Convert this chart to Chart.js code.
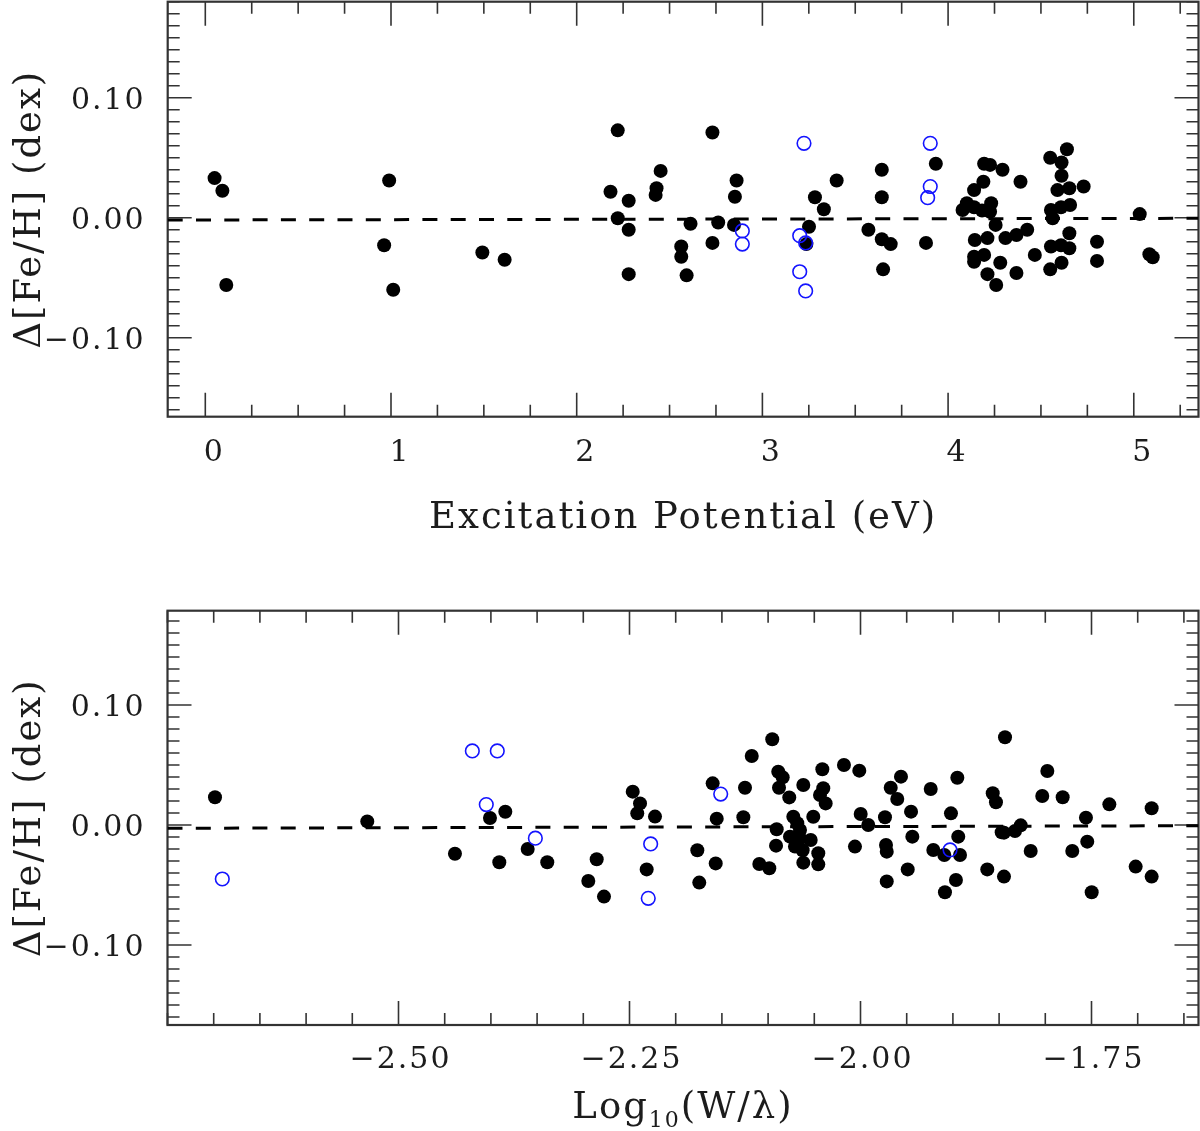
<!DOCTYPE html>
<html>
<head>
<meta charset="utf-8">
<script src="https://cdn.jsdelivr.net/npm/chart.js@4.4.1/dist/chart.umd.min.js"></script>
<style>
    html, body { margin: 0; padding: 0; background: #fff; }
    #wrap { position: relative; width: 1200px; height: 1131px; }
    canvas { position: absolute; left: 0; }
</style>
</head>
<body>
<div id="wrap">
    <canvas id="chart_top" width="1200" height="560" style="top:0px"></canvas>
    <canvas id="chart_bottom" width="1200" height="571" style="top:560px"></canvas>
</div>
<script>
// ---- top panel: excitation potential ----
let ep_filled = [0.05, 0.092, 0.113, 0.99, 0.963, 1.012, 1.492, 1.612,
    2.221, 2.182, 2.280, 2.221, 2.280, 2.280, 2.452, 2.430, 2.425, 2.613, 2.563, 2.563, 2.592,
    2.731, 2.762, 2.731, 2.861, 2.852, 2.847, 3.251, 3.237, 3.283, 3.331, 3.400,
    3.643, 3.643, 3.571, 3.643, 3.691, 3.650, 3.934, 3.881,
    4.078, 4.101, 4.140, 4.140, 4.190, 4.194, 4.226, 4.293, 4.183, 4.232, 4.226, 4.256,
    4.212, 4.144, 4.140, 4.140, 4.194, 4.281, 4.212, 4.259, 4.309, 4.368, 4.426, 4.368,
    4.390, 4.467, 4.550, 4.640, 4.611, 4.611, 4.589, 4.653, 4.730, 4.554, 4.563, 4.608,
    4.657, 4.653, 4.554, 4.608, 4.653, 4.550, 4.611, 4.802, 4.802, 5.032, 5.084, 5.102];
let dfe_ep_filled = [0.033, 0.0225, -0.056, 0.031, -0.023, -0.060, -0.029, -0.035,
    0.0728, 0.0217, 0.0142, -0.0005, -0.010, -0.047, 0.039, 0.0245, 0.019, -0.005, -0.024, -0.0325, -0.048,
    0.071, -0.004, -0.021, 0.031, 0.0175, -0.006, -0.0075, -0.022, 0.017, 0.007, 0.031,
    0.040, 0.017, -0.010, -0.018, -0.022, -0.043, 0.045, -0.021,
    0.0064, 0.012, 0.0087, 0.023, 0.030, 0.045, 0.044, 0.040, 0.006, 0.012, 0.005, -0.006,
    -0.017, -0.0186, -0.0325, -0.0367, -0.031, -0.0375, -0.047, -0.056, -0.017, -0.0144, -0.010, -0.046,
    0.030, -0.031, 0.050, 0.057, 0.046, 0.035, 0.023, 0.0245, 0.026, 0.0064, -0.0005, 0.0087,
    0.0106, -0.013, -0.024, -0.023, -0.0255, -0.043, -0.0375, -0.020, -0.036, 0.003, -0.0305, -0.033];
let ep_open = [3.224, 2.892, 2.892, 3.201, 3.233, 3.201, 3.233, 3.904, 3.904, 3.890];
let dfe_ep_open = [0.062, -0.011, -0.022, -0.015, -0.021, -0.045, -0.061, 0.062, 0.026, 0.0167];
let fit_ep_x = [-0.2025, 5.3485];
let fit_ep_y = [-0.0019, -0.0005];
let ep_tick_labels = [0, 1, 2, 3, 4, 5];

// ---- bottom panel: reduced equivalent width ----
let logw_filled = [-2.6986, -2.5338, -2.4389, -2.4010, -2.3844, -2.3909, -2.3602, -2.3390,
    -2.2855, -2.2946, -2.2776, -2.2465, -2.2386, -2.2416, -2.2224, -2.2314,
    -2.1766, -2.1745, -2.1567, -2.1600, -2.1556, -2.1250, -2.1268, -2.1177,
    -2.0955, -2.0890, -2.0842, -2.0882, -2.0771, -2.0619, -2.0413, -2.0403, -2.0438, -2.0377,
    -2.0179, -2.0013, -2.0511, -2.0727, -2.0684, -2.0907, -2.0655, -2.0763, -2.0539, -2.0655,
    -2.0709, -2.0626, -2.0914, -2.0457, -2.0457, -2.0619, -2.1095, -2.0987,
    -2.0060, -1.9998, -1.9916, -1.9735, -1.9724, -1.9716, -1.9716, -1.9673, -1.9602, -1.9562,
    -1.9453, -1.9439, -1.9489, -1.9240, -1.9212, -1.9093, -1.8952, -1.9021, -1.8942, -1.8923,
    -1.8967, -1.9086, -1.8628, -1.8569, -1.8534, -1.8472, -1.8447, -1.8447, -1.8436, -1.8328,
    -1.8266, -1.8158, -1.8033, -1.7978, -1.7812, -1.7708, -1.7560, -1.7546, -1.7498, -1.7307,
    -1.7022, -1.6849, -1.6849];
let dfe_logw_filled = [0.0231, 0.003, -0.024, 0.0058, 0.011, -0.031, -0.020, -0.031,
    -0.0286, -0.0467, -0.0597, 0.0278, 0.018, 0.0097, 0.007, -0.037,
    -0.021, -0.048, -0.032, 0.0347, 0.0053, 0.031, 0.0064, 0.0575,
    0.0714, 0.0444, 0.0397, 0.031, 0.023, 0.0333, 0.0464, 0.0306, 0.025, 0.018,
    0.050, 0.0453, 0.0069, 0.0069, 0.0014, -0.0036, -0.0042, -0.0097, -0.0125, -0.011,
    -0.018, -0.021, -0.0172, -0.0236, -0.0328, -0.0314, -0.0325, -0.036,
    -0.018, 0.0092, 0.0, 0.0064, -0.0167, -0.0222, -0.047, 0.031, 0.0217, 0.0403,
    0.0111, -0.0097, -0.037, 0.030, -0.0208, -0.025, 0.0394, 0.0097, -0.0097, -0.025,
    -0.0458, -0.0561, -0.037, 0.0264, 0.0189, -0.0061, -0.0064, -0.043, 0.0731, -0.005,
    -0.0003, -0.0217, 0.0242, 0.045, 0.0231, -0.0217, 0.0061, -0.0139, -0.0561, 0.0172,
    -0.0347, 0.0139, -0.043];
let logw_open = [-2.6907, -2.4201, -2.3931, -2.4050, -2.3519, -2.1513, -2.2271, -2.2297, -1.9031];
let dfe_logw_open = [-0.045, 0.0617, 0.0617, 0.017, -0.011, 0.0258, -0.0158, -0.0611, -0.0208];
let fit_logw_x = [-2.75, -1.6342];
let fit_logw_y = [-0.00275, -0.0006];
let logw_tick_labels = [-2.50, -2.25, -2.00, -1.75];

let dfe_tick_labels = [-0.10, 0.00, 0.10];

let font_family = '"DejaVu Serif", "Liberation Serif", serif';
let ink = '#1c1c1c';

function toPoints(xs, ys) {
    return xs.map((v, i) => ({ x: v, y: ys[i] }));
}

function fmtSigned(v, dec) {
    let s = Math.abs(v).toFixed(dec);
    return (v < -1e-9 ? '\u2212' : '') + s;
}

// inward ticks on all four sides + frame, pgplot style
const frameTicks = {
    id: 'frameTicks',
    beforeDraw(chart) {
        chart.ctx.letterSpacing = '2px';
    },
    beforeDatasetsDraw(chart, args, opts) {
        let ctx = chart.ctx;
        let a = chart.chartArea;
        let sx = chart.scales.x, sy = chart.scales.y;
        ctx.save();
        ctx.strokeStyle = '#333';
        ctx.lineWidth = 1.6;
        ctx.beginPath();
        let k0 = Math.ceil(sx.min / opts.xMinor - 1e-6), k1 = Math.floor(sx.max / opts.xMinor + 1e-6);
        for (let k = k0; k <= k1; k++) {
            let v = k * opts.xMinor;
            let len = opts.xMajor.some(m => Math.abs(m - v) < 1e-6) ? 24 : 12;
            let px = sx.getPixelForValue(v);
            ctx.moveTo(px, a.bottom); ctx.lineTo(px, a.bottom - len);
            ctx.moveTo(px, a.top); ctx.lineTo(px, a.top + len);
        }
        k0 = Math.ceil(sy.min / opts.yMinor - 1e-6); k1 = Math.floor(sy.max / opts.yMinor + 1e-6);
        for (let k = k0; k <= k1; k++) {
            let v = k * opts.yMinor;
            let len = opts.yMajor.some(m => Math.abs(m - v) < 1e-6) ? 24 : 12;
            let py = sy.getPixelForValue(v);
            ctx.moveTo(a.left, py); ctx.lineTo(a.left + len, py);
            ctx.moveTo(a.right, py); ctx.lineTo(a.right - len, py);
        }
        ctx.stroke();
        ctx.lineWidth = 2.2;
        ctx.strokeRect(a.left, a.top, a.right - a.left, a.bottom - a.top);
        ctx.restore();
    }
};

// x title with a subscript, chart.js titles can't do that
const logTitle = {
    id: 'logTitle',
    afterDraw(chart, args, opts) {
        if (!opts.show) return;
        let ctx = chart.ctx;
        let a = chart.chartArea;
        ctx.save();
        ctx.fillStyle = ink;
        ctx.textBaseline = 'alphabetic';
        ctx.textAlign = 'left';
        ctx.letterSpacing = '2px';
        let big = '37px ' + font_family, small = '22px ' + font_family;
        ctx.font = big;
        let w1 = ctx.measureText('Log').width;
        let w3 = ctx.measureText('(W/\u03bb)').width;
        ctx.font = small;
        let w2 = ctx.measureText('10').width;
        let x = (a.left + a.right) / 2 - (w1 + w2 + w3) / 2;
        let y = opts.baseline;
        ctx.font = big;
        ctx.fillText('Log', x, y);
        ctx.font = small;
        ctx.fillText('10', x + w1, y + 9);
        ctx.font = big;
        ctx.fillText('(W/\u03bb)', x + w1 + w2, y);
        ctx.restore();
    }
};

function buildChart(canvas_id, p) {
    let canvas = document.getElementById(canvas_id);
    return new Chart(canvas.getContext('2d'), {
        type: 'scatter',
        data: {
            datasets: [
                {
                    data: toPoints(p.openX, p.openY),
                    pointRadius: 6.8,
                    pointBackgroundColor: 'rgba(0,0,0,0)',
                    pointBorderColor: '#1414ff',
                    pointBorderWidth: 1.6,
                    order: 0
                },
                {
                    data: toPoints(p.filledX, p.filledY),
                    pointRadius: 7,
                    pointBackgroundColor: '#000',
                    pointBorderWidth: 0,
                    order: 1
                },
                {
                    data: toPoints(p.fitX, p.fitY),
                    showLine: true,
                    pointRadius: 0,
                    borderColor: '#000',
                    borderWidth: 3,
                    borderDash: [15, 13.3],
                    order: 2
                }
            ]
        },
        options: {
            responsive: false,
            animation: false,
            events: [],
            devicePixelRatio: 1,
            layout: { autoPadding: false, padding: { top: p.padTop, right: 1.5, left: 0, bottom: 0 } },
            plugins: {
                legend: { display: false },
                tooltip: { enabled: false },
                frameTicks: { xMinor: p.xMinor, xMajor: p.xTicks, yMinor: 0.01, yMajor: dfe_tick_labels },
                logTitle: { show: p.logTitle, baseline: p.logBaseline }
            },
            scales: {
                x: {
                    type: 'linear',
                    min: p.xMin,
                    max: p.xMax,
                    grid: { display: false },
                    border: { display: false },
                    afterBuildTicks: s => { s.ticks = p.xTicks.map(v => ({ value: v })); },
                    afterFit: s => {
                        s.height = p.xHeight;
                        s.paddingLeft = 0; s.paddingRight = 0;
                    },
                    ticks: {
                        autoSkip: false,
                        maxRotation: 0,
                        padding: p.xTickPad,
                        labelOffset: p.xLabelOffset,
                        color: ink,
                        font: { family: font_family, size: 30 },
                        callback: v => p.xFmt(v)
                    },
                    title: {
                        display: !!p.xTitle,
                        text: p.xTitle || '',
                        color: ink,
                        font: { family: font_family, size: 37 },
                        padding: { top: 0, bottom: 19 }
                    }
                },
                y: {
                    type: 'linear',
                    min: p.yMin,
                    max: p.yMax,
                    grid: { display: false },
                    border: { display: false },
                    afterBuildTicks: s => { s.ticks = dfe_tick_labels.map(v => ({ value: v })); },
                    afterFit: s => {
                        s.width = p.yWidth;
                        s.paddingTop = 0; s.paddingBottom = 0;
                    },
                    ticks: {
                        autoSkip: false,
                        padding: 14,
                        labelOffset: 3,
                        color: ink,
                        font: { family: font_family, size: 30 },
                        callback: v => fmtSigned(v, 2)
                    },
                    title: {
                        display: true,
                        text: '\u0394[Fe/H] (dex)',
                        color: ink,
                        font: { family: font_family, size: 37 },
                        padding: { top: 8, bottom: 0 }
                    }
                }
            }
        },
        plugins: [frameTicks, logTitle]
    });
}

let chart_top = buildChart('chart_top', {
    filledX: ep_filled, filledY: dfe_ep_filled,
    openX: ep_open, openY: dfe_ep_open,
    fitX: fit_ep_x, fitY: fit_ep_y,
    xMin: -0.2025, xMax: 5.3485, yMin: -0.1658, yMax: 0.18,
    xTicks: ep_tick_labels, xMinor: 0.25,
    xFmt: v => String(v),
    xTitle: 'Excitation Potential (eV)',
    xHeight: 143.3, yWidth: 167.7, padTop: 1.7,
    xTickPad: 11, xLabelOffset: 9,
    logTitle: false, logBaseline: 0
});

let chart_bottom = buildChart('chart_bottom', {
    filledX: logw_filled, filledY: dfe_logw_filled,
    openX: logw_open, openY: dfe_logw_open,
    fitX: fit_logw_x, fitY: fit_logw_y,
    xMin: -2.75, xMax: -1.6342, yMin: -0.1667, yMax: 0.1786,
    xTicks: logw_tick_labels, xMinor: 0.05,
    xFmt: v => fmtSigned(v, 2),
    xTitle: null,
    xHeight: 106, yWidth: 167.5, padTop: 50.7,
    xTickPad: 9, xLabelOffset: 2,
    logTitle: true, logBaseline: 558
});
</script>
</body>
</html>
